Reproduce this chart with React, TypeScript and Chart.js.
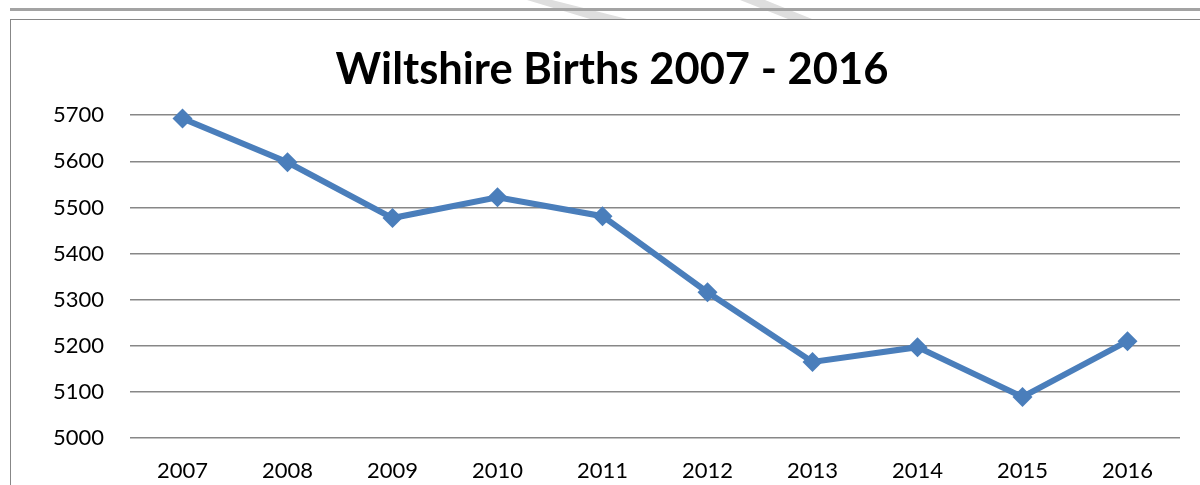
import React, { useEffect, useRef } from "react";
import { Chart, registerables } from "chart.js";

Chart.register(...registerables);

const years = ["2007", "2008", "2009", "2010", "2011", "2012", "2013", "2014", "2015", "2016"];
const births = [5693, 5598, 5477, 5522, 5481, 5316, 5165, 5197, 5089, 5210];
const yTicks = [5000, 5100, 5200, 5300, 5400, 5500, 5600, 5700];
const titleText = "Wiltshire Births 2007 - 2016";

const FONT = "Lato, 'Open Sans', 'Liberation Sans', sans-serif";

export default function App() {
  const ref = useRef<HTMLCanvasElement | null>(null);

  useEffect(() => {
    document.body.style.margin = "0";
    const canvas = ref.current;
    if (!canvas) return;
    const chart = new Chart(canvas, {
      type: "line",
      data: {
        labels: years,
        datasets: [
          {
            data: births,
            borderColor: "#4a7ebb",
            backgroundColor: "#4a7ebb",
            borderWidth: 6,
            pointStyle: "rectRot",
            pointRadius: 10,
            pointHoverRadius: 10,
            pointBorderWidth: 0,
            tension: 0,
            clip: false as any,
          },
        ],
      },
      options: {
        animation: false,
        responsive: false,
        events: [],
        layout: { padding: { left: 44, right: 20, top: 0, bottom: 1 } },
        plugins: {
          legend: { display: false },
          tooltip: { enabled: false },
          title: {
            display: true,
            text: titleText,
            color: "#000",
            font: { family: FONT, size: 43.5, weight: "bold", lineHeight: 1.2 },
            padding: { top: 44, bottom: 19 },
          },
        },
        scales: {
          x: {
            offset: true,
            afterFit: (s: any) => {
              s.height = 46;
            },
            grid: { display: false, drawTicks: false },
            border: { display: false },
            ticks: {
              color: "#000",
              padding: 20,
              font: { family: FONT, size: 22 },
              maxRotation: 0,
            },
          },
          y: {
            min: 5000,
            max: 5700,
            afterFit: (s: any) => {
              s.width = 86;
            },
            afterBuildTicks: (s: any) => {
              s.ticks = yTicks.map((v) => ({ value: v }));
            },
            grid: { color: "#878787", lineWidth: 1.5, drawTicks: false },
            border: { display: false },
            ticks: {
              color: "#000",
              padding: 26,
              font: { family: FONT, size: 22 },
              callback: (v: any) => String(v),
            },
          },
        },
      },
    });
    return () => chart.destroy();
  }, []);

  return (
    <div style={{ position: "relative", width: 1200, height: 485, overflow: "hidden", background: "#fff" }}>
      <div
        style={{
          position: "absolute",
          left: 0,
          top: 0,
          width: 1200,
          height: 19,
          background: "#dedede",
          clipPath: "polygon(527px 0px, 552px 0px, 627px 19px, 590px 19px)",
        }}
      />
      <div
        style={{
          position: "absolute",
          left: 0,
          top: 0,
          width: 1200,
          height: 19,
          background: "#dedede",
          clipPath: "polygon(740px 0px, 765px 0px, 812px 19px, 788px 19px)",
        }}
      />
      <div style={{ position: "absolute", left: 10, top: 8, width: 1190, height: 3, background: "#a3a3a3" }} />
      <div
        style={{
          position: "absolute",
          left: 10,
          top: 19,
          width: 1200,
          height: 480,
          borderLeft: "1.5px solid #878787",
          borderTop: "1.5px solid #878787",
        }}
      />
      <canvas ref={ref} width={1200} height={485} style={{ position: "absolute", left: 0, top: 0 }} />
    </div>
  );
}
